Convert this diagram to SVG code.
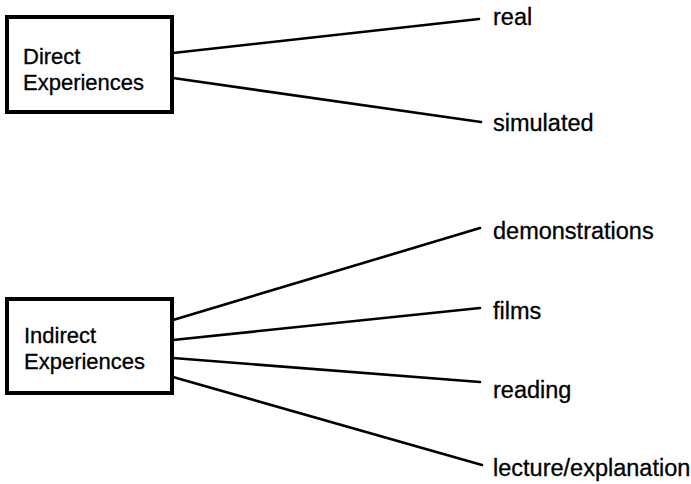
<svg xmlns="http://www.w3.org/2000/svg" width="691" height="484" viewBox="0 0 691 484">
<style>
.box{fill:#fff;stroke:#000;stroke-width:4}
.t{font-family:"Liberation Sans",Arial,sans-serif;font-size:22px;fill:#000;stroke:#000;stroke-width:0.3}
.r{font-size:23.5px}
.c{stroke:#000;stroke-width:2.6;fill:none;stroke-linecap:round}
</style>
<rect width="691" height="484" fill="#fff"/>
<g id="connectors">
<line class="c" x1="173" y1="53" x2="479" y2="19"/>
<line class="c" x1="173" y1="78" x2="481" y2="122"/>
<line class="c" x1="173" y1="320" x2="480" y2="228"/>
<line class="c" x1="173" y1="340" x2="480" y2="308"/>
<line class="c" x1="173" y1="358" x2="480" y2="382"/>
<line class="c" x1="173" y1="377" x2="482" y2="465"/>
</g>
<g id="direct">
<rect class="box" x="7" y="17" width="165" height="95"/>
<text class="t" x="23" y="64">Direct</text>
<text class="t" x="23" y="90">Experiences</text>
</g>
<g id="indirect">
<rect class="box" x="7" y="299" width="165" height="94"/>
<text class="t" x="24" y="343">Indirect</text>
<text class="t" x="24" y="369">Experiences</text>
</g>
<g id="real"><text class="t r" x="493" y="25">real</text></g>
<g id="simulated"><text class="t r" x="493" y="131">simulated</text></g>
<g id="demonstrations"><text class="t r" x="493" y="239">demonstrations</text></g>
<g id="films"><text class="t r" x="493" y="319">films</text></g>
<g id="reading"><text class="t r" x="493" y="398">reading</text></g>
<g id="lecture"><text class="t r" x="493" y="476">lecture/explanation</text></g>
</svg>
